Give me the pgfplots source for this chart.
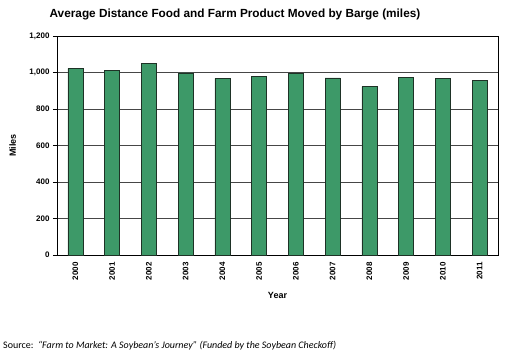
\documentclass[border=0pt]{standalone}
\usepackage{pgfplots}
\pgfplotsset{compat=1.18}
\usepackage{fontspec}
\setmainfont{Liberation Sans}
\newfontfamily\calibri{Carlito}
\definecolor{bargreen}{RGB}{61,153,104}
\definecolor{baredge}{RGB}{30,50,38}
\definecolor{gridc}{RGB}{70,70,70}
\begin{document}
\begin{tikzpicture}
\useasboundingbox (0pt,0pt) rectangle (526pt,356pt);
\begin{axis}[
  at={(57pt,101pt)}, anchor=south west,
  width=441pt, height=219pt, scale only axis,
  xmin=-0.5, xmax=11.5, ymin=0, ymax=1200,
  xtick={0,...,11},
  xticklabels={2000,2001,2002,2003,2004,2005,2006,2007,2008,2009,2010,2011},
  x tick label style={rotate=90, anchor=east, font=\fontsize{8}{9}\selectfont\bfseries},
  extra x ticks={-0.5,0.5,...,11.5},
  extra x tick labels={},
  extra x tick style={major tick length=4pt, tick style={black}, grid=none},
  xtick style={draw=none},
  xtick pos=bottom, ytick pos=left,
  ytick={0,200,...,1200},
  yticklabel style={font=\fontsize{8}{9}\selectfont\bfseries, /pgf/number format/assume math mode=true},
  /pgf/number format/1000 sep={,},
  ymajorgrids, grid style={gridc, line width=0.6pt},
  y tick style={black}, major tick length=4pt,
  tick align=outside,
  axis line style={black, line width=0.6pt},
  ylabel={\bfseries Miles}, ylabel style={font=\fontsize{9}{10}\selectfont, at={(rel axis cs:-0.085,0.5)}},
  xlabel={\bfseries Year}, xlabel style={font=\fontsize{9}{10}\selectfont, yshift=3pt},
  ybar, bar width=15pt,
]
\addplot[fill=bargreen, draw=baredge, line width=0.5pt] coordinates {
(0,1022) (1,1011) (2,1049) (3,998) (4,968) (5,980) (6,995) (7,970) (8,922) (9,972) (10,968) (11,957)};
\end{axis}
\node[anchor=base, font=\fontsize{11.8}{13}\selectfont\bfseries] at (235pt,338pt) {Average Distance Food and Farm Product Moved by Barge (miles)};
\node[anchor=base west, font=\calibri\fontsize{10}{12}\selectfont, inner sep=0] at (3pt,8pt) {Source:\ \ \textit{“Farm to Market: A Soybean’s Journey” (Funded by the Soybean Checkoff)}};
\end{tikzpicture}
\end{document}
